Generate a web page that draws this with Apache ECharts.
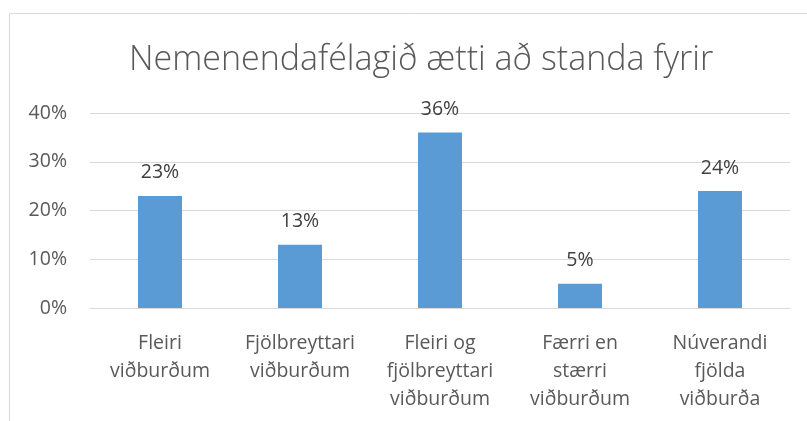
<!DOCTYPE html>
<html>
<head>
<meta charset="utf-8">
<script src="https://cdn.jsdelivr.net/npm/echarts@6/dist/echarts.min.js"></script>
<style>
html,body{margin:0;padding:0;background:#fff;}
#container{width:807px;height:421px;}
</style>
</head>
<body>
<div id="container"></div>
<script>
var titleText = 'Nemenendafélagið ætti að standa fyrir';
var categories = ['Fleiri\nviðburðum', 'Fjölbreyttari\nviðburðum', 'Fleiri og\nfjölbreyttari\nviðburðum', 'Færri en\nstærri\nviðburðum', 'Núverandi\nfjölda\nviðburða'];
var values = [23, 13, 36, 5, 24];
var yTicks = [0, 10, 20, 30, 40];

var dom = document.getElementById('container');
var myChart = echarts.init(dom);
var font = '"Open Sans", "Liberation Sans", sans-serif';

var option = {
    animation: false,
    textStyle: { fontFamily: font },
    title: {
        text: titleText,
        left: 124,
        top: 38,
        textStyle: { fontFamily: font, fontWeight: 300, fontSize: 34, color: '#595959' }
    },
    graphic: [{
        type: 'rect',
        shape: { x: 9.5, y: 13.5, width: 820, height: 500 },
        style: { fill: 'none', stroke: '#d9d9d9', lineWidth: 1 },
        silent: true
    }],
    grid: { left: 90, right: 17, top: 113, bottom: 113 },
    xAxis: {
        type: 'category',
        data: categories,
        axisLine: { lineStyle: { color: '#d9d9d9' } },
        axisTick: { show: false },
        axisLabel: { color: '#595959', fontSize: 19.5, lineHeight: 28, margin: 21, interval: 0 }
    },
    yAxis: {
        type: 'value',
        min: 0,
        max: 40,
        interval: 10,
        axisLine: { show: false },
        axisTick: { show: false },
        splitLine: { lineStyle: { color: '#d9d9d9' } },
        axisLabel: {
            color: '#595959', fontSize: 19.5, margin: 23,
            formatter: function (v) { return yTicks.indexOf(v) >= 0 ? v + '%' : ''; }
        }
    },
    series: [{
        type: 'bar',
        data: values,
        barWidth: 44,
        itemStyle: { color: '#5b9bd5' },
        label: {
            show: true,
            position: 'top',
            distance: 13,
            color: '#404040',
            fontSize: 19.5,
            formatter: '{c}%'
        }
    }]
};
myChart.setOption(option, true);
</script>
</body>
</html>
